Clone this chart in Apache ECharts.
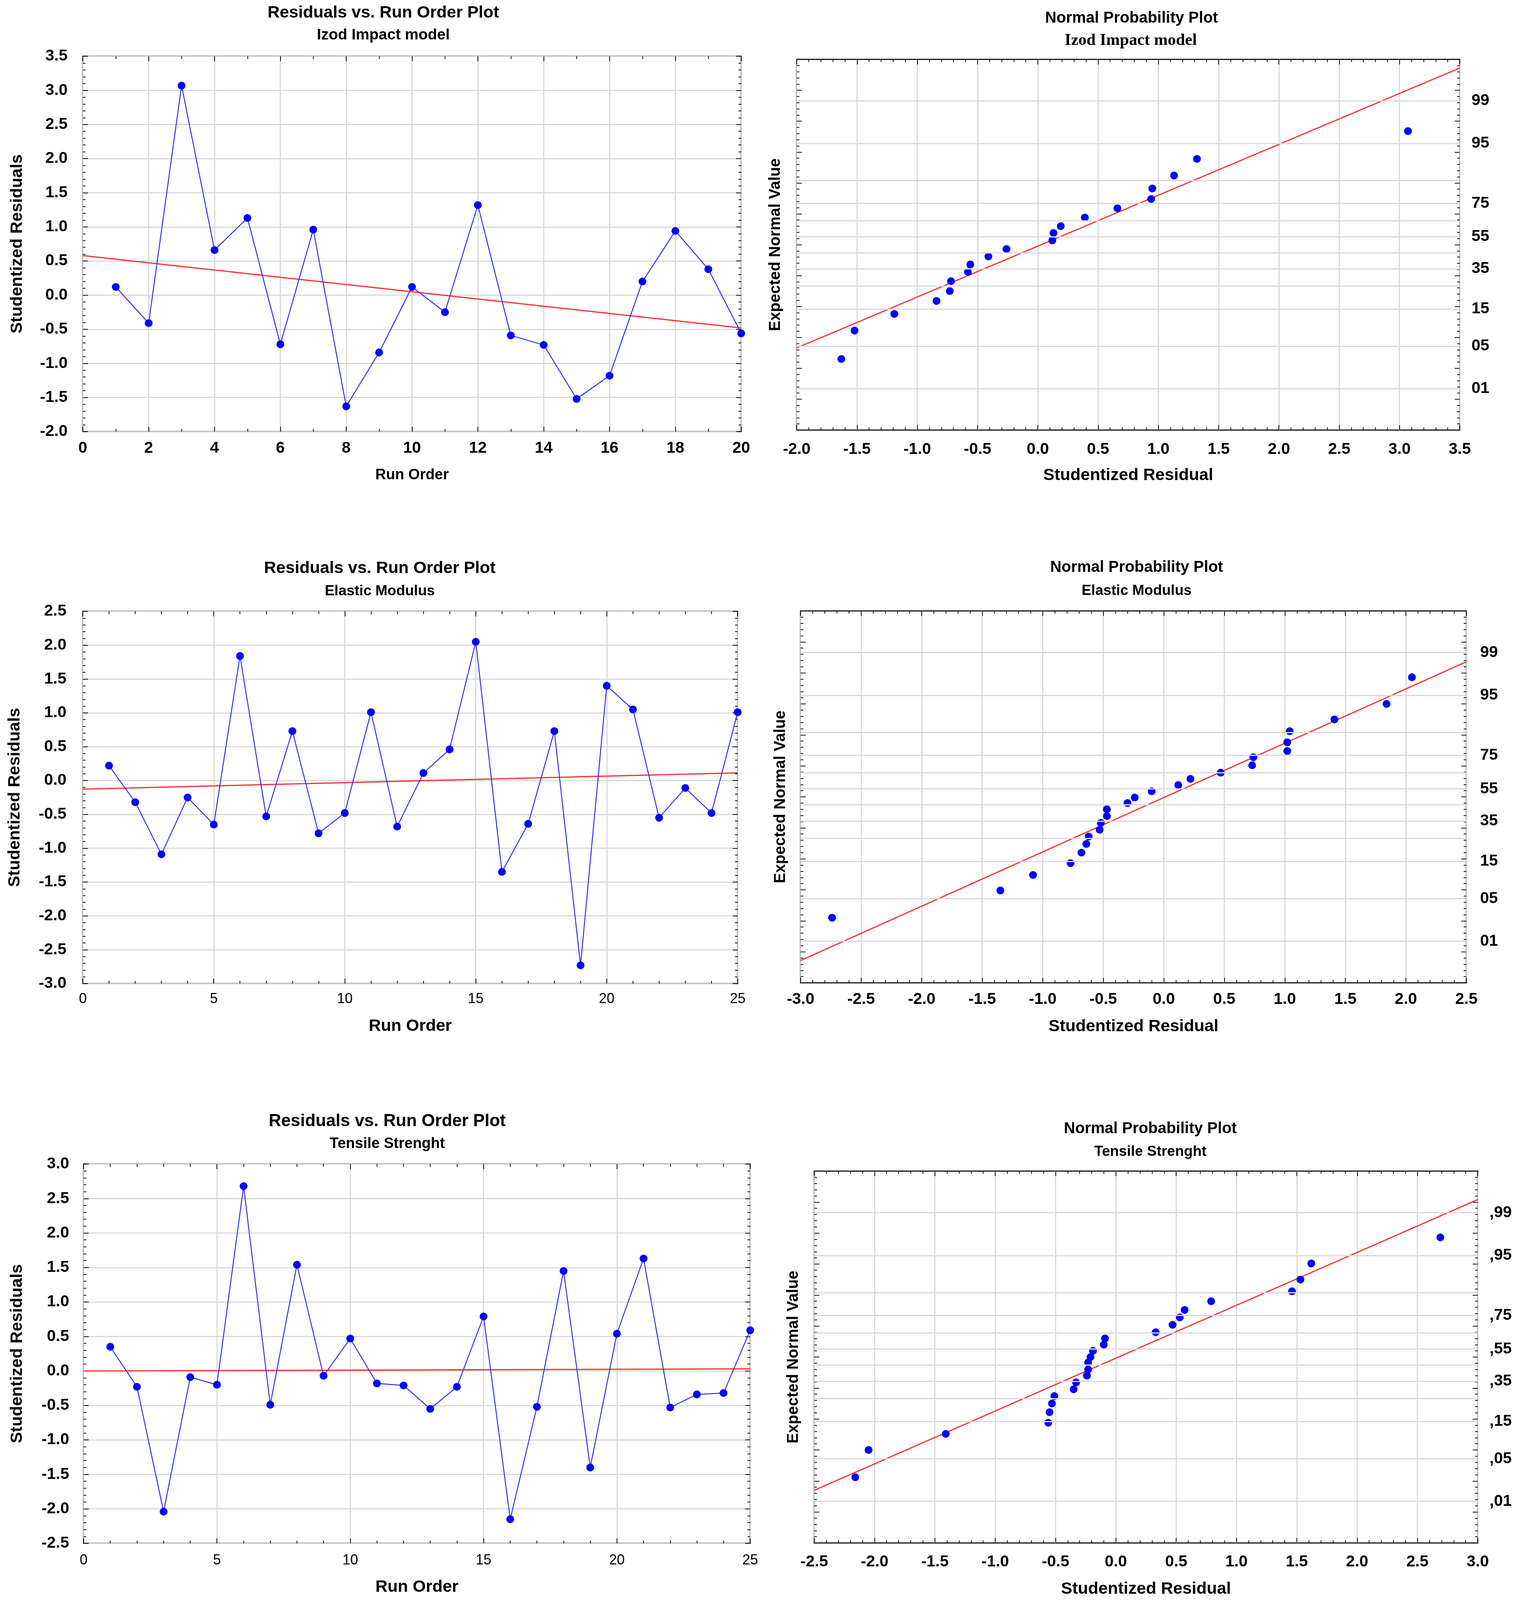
<!DOCTYPE html>
<html>
<head>
<meta charset="utf-8">
<script src="https://cdn.jsdelivr.net/npm/echarts@6/dist/echarts.min.js"></script>
<style>
html, body { margin: 0; padding: 0; background: #fff; overflow: hidden; }
#main { width: 100vw; height: 100vh; }
</style>
</head>
<body>
<div id="main"></div>
<script>
// ---- data ----
// Izod Impact model
var izodRun = [1, 2, 3, 4, 5, 6, 7, 8, 9, 10, 11, 12, 13, 14, 15, 16, 17, 18, 19, 20];
var izodResid = [0.12, -0.41, 3.07, 0.66, 1.13, -0.72, 0.96, -1.63, -0.84, 0.12, -0.25, 1.32, -0.59, -0.73, -1.52, -1.18, 0.20, 0.94, 0.38, -0.56];
var izodTrend = [[0, 0.58], [20, -0.48]];
var izodNpX = [-1.63, -1.52, -1.19, -0.84, -0.73, -0.72, -0.58, -0.56, -0.41, -0.26, 0.12, 0.13, 0.19, 0.39, 0.66, 0.94, 0.95, 1.13, 1.32, 3.07];
var izodNpZ = [-1.85, -1.39, -1.12, -0.91, -0.75, -0.59, -0.44, -0.32, -0.19, -0.07, 0.07, 0.19, 0.30, 0.44, 0.59, 0.74, 0.91, 1.12, 1.39, 1.84];
var izodNpFit = [[-2.0, -1.67], [3.5, 2.86]];

// Elastic Modulus
var elasRun = [1, 2, 3, 4, 5, 6, 7, 8, 9, 10, 11, 12, 13, 14, 15, 16, 17, 18, 19, 20, 21, 22, 23, 24, 25];
var elasResid = [0.22, -0.32, -1.09, -0.25, -0.65, 1.84, -0.53, 0.73, -0.78, -0.48, 1.01, -0.68, 0.11, 0.46, 2.05, -1.35, -0.64, 0.73, -2.73, 1.40, 1.05, -0.55, -0.11, -0.48, 1.01];
var elasTrend = [[0, -0.127], [25, 0.113]];
var elasNpX = [-2.74, -1.35, -1.08, -0.77, -0.68, -0.64, -0.62, -0.53, -0.52, -0.47, -0.47, -0.30, -0.24, -0.10, 0.12, 0.22, 0.47, 0.73, 0.74, 1.02, 1.02, 1.04, 1.41, 1.84, 2.05];
var elasNpZ = [-1.95, -1.51, -1.26, -1.07, -0.90, -0.76, -0.64, -0.53, -0.42, -0.31, -0.20, -0.10, -0.01, 0.09, 0.19, 0.29, 0.39, 0.51, 0.64, 0.74, 0.88, 1.06, 1.25, 1.50, 1.93];
var elasNpFit = [[-3.0, -2.64], [2.5, 2.18]];

// Tensile Strenght
var tensRun = [1, 2, 3, 4, 5, 6, 7, 8, 9, 10, 11, 12, 13, 14, 15, 16, 17, 18, 19, 20, 21, 22, 23, 24, 25];
var tensResid = [0.35, -0.23, -2.04, -0.09, -0.20, 2.68, -0.49, 1.54, -0.07, 0.47, -0.18, -0.21, -0.55, -0.23, 0.79, -2.15, -0.52, 1.45, -1.40, 0.54, 1.63, -0.53, -0.34, -0.32, 0.59];
var tensTrend = [[0, 0.0], [25, 0.03]];
var tensNpX = [-2.16, -2.05, -1.41, -0.56, -0.55, -0.53, -0.51, -0.35, -0.33, -0.24, -0.23, -0.23, -0.21, -0.19, -0.10, -0.09, 0.33, 0.47, 0.53, 0.57, 0.79, 1.46, 1.53, 1.62, 2.69];
var tensNpZ = [-1.94, -1.50, -1.24, -1.06, -0.89, -0.75, -0.63, -0.52, -0.41, -0.30, -0.20, -0.09, 0.00, 0.10, 0.20, 0.30, 0.40, 0.52, 0.64, 0.76, 0.90, 1.06, 1.25, 1.51, 1.93];
var tensNpFit = [[-2.5, -2.15], [3.0, 2.54]];

// probability scale of the normal plots
var probGridPct = [1, 5, 15, 25, 35, 45, 55, 65, 75, 85, 95, 99];
var probTickPct = [99, 95, 75, 55, 35, 15, 5, 1];
var probTickText = ["99", "95", "75", "55", "35", "15", "05", "01"];
var probTickTextComma = [",99", ",95", ",75", ",55", ",35", ",15", ",05", ",01"];

// ---- layout: laid out for 3885 x 4647, scaled to whatever the window gives ----
var VW = window.innerWidth || 3885,
	VH = window.innerHeight || 4647,
	sx = VW / 3885,
	sy = VH / 4647,
	sf = Math.sqrt(sx * sy);

function X(v) { return Math.round(v * sx); }
function Y(v) { return Math.round(v * sy); }
function F(v) { return Math.round(v * sf); }

var FONT = "'Liberation Sans', Arial, sans-serif",
	SERIF = "'Liberation Serif', 'Times New Roman', serif",
	INK = "#141414",
	GRIDC = "#d9d9d9";

function probit(p) {
	// inverse normal cdf (Acklam)
	var a = [-3.969683028665376e+01, 2.209460984245205e+02, -2.759285104469687e+02, 1.383577518672690e+02, -3.066479806614716e+01, 2.506628277459239e+00],
		b = [-5.447609879822406e+01, 1.615858368580409e+02, -1.556989798598866e+02, 6.680131188771972e+01, -1.328068155288572e+01],
		c = [-7.784894002430293e-03, -3.223964580411365e-01, -2.400758277161838e+00, -2.549732539343734e+00, 4.374664141464968e+00, 2.938163982698783e+00],
		d = [7.784695709041462e-03, 3.224671290700398e-01, 2.445134137142996e+00, 3.754408661907416e+00],
		plow = 0.02425, q, r;
	if (p < plow) {
		q = Math.sqrt(-2 * Math.log(p));
		return (((((c[0]*q+c[1])*q+c[2])*q+c[3])*q+c[4])*q+c[5]) / ((((d[0]*q+d[1])*q+d[2])*q+d[3])*q+1);
	}
	if (p > 1 - plow) {
		q = Math.sqrt(-2 * Math.log(1 - p));
		return -(((((c[0]*q+c[1])*q+c[2])*q+c[3])*q+c[4])*q+c[5]) / ((((d[0]*q+d[1])*q+d[2])*q+d[3])*q+1);
	}
	q = p - 0.5;
	r = q * q;
	return (((((a[0]*r+a[1])*r+a[2])*r+a[3])*r+a[4])*r+a[5])*q / (((((b[0]*r+b[1])*r+b[2])*r+b[3])*r+b[4])*r+1);
}

function pairs(xs, ys) {
	var out = [];
	for (var i = 0; i < xs.length; i++) out.push([xs[i], ys[i]]);
	return out;
}

var opt = {
	animation: false,
	backgroundColor: "#fff",
	grid: [],
	xAxis: [],
	yAxis: [],
	series: [],
	graphic: []
};

function tickOnly(ax) {
	ax.axisLabel = { show: false };
	ax.splitLine = { show: false };
	ax.name = "";
	return ax;
}

function baseAxis(gi, pos, min, max, interval, minorSplit) {
	return {
		type: "value",
		gridIndex: gi,
		position: pos,
		min: min,
		max: max,
		interval: interval,
		axisLine: { show: false, onZero: false },
		axisTick: { show: true, inside: true, length: 13, lineStyle: { color: INK, width: 2 } },
		minorTick: { show: true, splitNumber: minorSplit, length: 7, lineStyle: { color: INK, width: 2 } },
		splitLine: { show: true, lineStyle: { color: GRIDC, width: 3 } },
		axisLabel: { show: false }
	};
}

function addTitle(x, y, text, size, family) {
	opt.graphic.push({
		type: "text",
		x: X(x),
		y: Y(y),
		silent: true,
		style: {
			text: text,
			fill: "#000",
			font: "bold " + F(size) + "px " + (family || FONT),
			align: "center",
			verticalAlign: "middle"
		}
	});
}

// p: box, x/y range, labels, names
function addPanel(p) {
	var gi = opt.grid.length,
		xb, xt, yl, yr;

	opt.grid.push({
		left: X(p.box[0]),
		top: Y(p.box[1]),
		width: X(p.box[2]) - X(p.box[0]),
		height: Y(p.box[3]) - Y(p.box[1]),
		show: true,
		borderColor: INK,
		borderWidth: 3,
		backgroundColor: "#fff"
	});

	xb = baseAxis(gi, "bottom", p.x[0], p.x[1], p.x[2], p.x[3]);
	xb.axisLabel = {
		show: true,
		margin: Y(p.xLab.margin),
		fontSize: F(p.xLab.size),
		fontWeight: p.xLab.weight,
		fontFamily: FONT,
		color: "#000",
		showMinLabel: true,
		showMaxLabel: true,
		formatter: function(v) { return p.xLab.dec ? v.toFixed(1) : String(Math.round(v)); }
	};
	xb.name = p.xName.text;
	xb.nameLocation = "middle";
	xb.nameGap = Y(p.xName.gap);
	xb.nameTextStyle = { fontSize: F(p.xName.size), fontWeight: "bold", fontFamily: FONT, color: "#000" };
	xt = tickOnly(baseAxis(gi, "top", p.x[0], p.x[1], p.x[2], p.x[3]));

	yl = baseAxis(gi, "left", p.y[0], p.y[1], p.y[2], p.y[3]);
	if (p.yLab)
	{
		yl.axisLabel = {
			show: true,
			margin: X(p.yLab.margin),
			fontSize: F(p.yLab.size),
			fontWeight: "bold",
			fontFamily: FONT,
			color: "#000",
			showMinLabel: true,
			showMaxLabel: true,
			formatter: function(v) { return v.toFixed(1); }
		};
	}
	else
	{
		yl.splitLine = { show: false };
	}
	yl.name = p.yName.text;
	yl.nameLocation = "middle";
	yl.nameRotate = 90;
	yl.nameGap = X(p.yName.gap);
	yl.nameTextStyle = { fontSize: F(p.yName.size), fontWeight: "bold", fontFamily: FONT, color: "#000" };
	yr = tickOnly(baseAxis(gi, "right", p.y[0], p.y[1], p.y[2], p.y[3]));

	opt.xAxis.push(xb, xt);
	opt.yAxis.push(yl, yr);

	var xi = gi * 2,
		yi = gi * 2;

	// probability grid lines + right labels
	if (p.prob)
	{
		var lines = [];
		probGridPct.forEach(function(pc) {
			var k = probTickPct.indexOf(pc),
				item = { yAxis: probit(pc / 100), label: { show: false } };
			if (k >= 0)
			{
				item.label = {
					show: true,
					position: "end",
					distance: X(p.prob.dist),
					formatter: p.prob.text[k],
					fontSize: F(p.prob.size),
					fontWeight: "bold",
					fontFamily: FONT,
					color: "#000"
				};
			}
			lines.push(item);
		});
		opt.series.push({
			type: "line",
			xAxisIndex: xi,
			yAxisIndex: yi,
			data: [],
			z: 1,
			markLine: {
				silent: true,
				animation: false,
				symbol: ["none", "none"],
				lineStyle: { color: GRIDC, width: 3, type: "solid" },
				emphasis: { disabled: true },
				data: lines
			}
		});
	}

	opt.series.push({
		type: "line",
		xAxisIndex: xi,
		yAxisIndex: yi,
		data: p.trend,
		symbol: "none",
		z: 3,
		lineStyle: { color: "#ff2b2b", width: 3 }
	});

	if (p.joined)
	{
		opt.series.push({
			type: "line",
			xAxisIndex: xi,
			yAxisIndex: yi,
			data: p.points,
			symbol: "circle",
			symbolSize: F(21),
			z: 4,
			itemStyle: { color: "#0000ff" },
			lineStyle: { color: "#3333f2", width: 2.5 }
		});
	}
	else
	{
		opt.series.push({
			type: "scatter",
			xAxisIndex: xi,
			yAxisIndex: yi,
			data: p.points,
			symbolSize: F(21),
			z: 4,
			itemStyle: { color: "#0000ff", opacity: 1 }
		});
	}
}

// ---- panels ----
addPanel({
	box: [212, 163, 1897, 1254],
	x: [0, 20, 2, 2], y: [-2, 3.5, 0.5, 5],
	xLab: { size: 44, weight: "bold", margin: 25, dec: false },
	yLab: { size: 44, margin: 39 },
	xName: { text: "Run Order", size: 40, gap: 106 },
	yName: { text: "Studentized Residuals", size: 46, gap: 146 },
	points: pairs(izodRun, izodResid), trend: izodTrend, joined: true
});
addTitle(981, 38, "Residuals vs. Run Order Plot", 46);
addTitle(981, 102, "Izod Impact model", 42);

addPanel({
	box: [2039, 172, 3736, 1249],
	x: [-2, 3.5, 0.5, 5], y: [-3, 3, 0.5, 5],
	xLab: { size: 44, weight: "bold", margin: 33, dec: true },
	xName: { text: "Studentized Residual", size: 46, gap: 108 },
	yName: { text: "Expected Normal Value", size: 43, gap: 34 },
	prob: { text: probTickText, size: 44, dist: 30 },
	points: pairs(izodNpX, izodNpZ), trend: izodNpFit, joined: false
});
addTitle(2896, 53, "Normal Probability Plot", 43);
addTitle(2894, 118, "Izod Impact model", 45, SERIF);

addPanel({
	box: [212, 1776, 1888, 2857],
	x: [0, 25, 5, 5], y: [-3, 2.5, 0.5, 5],
	xLab: { size: 38, weight: "normal", margin: 25, dec: false },
	yLab: { size: 44, margin: 42 },
	xName: { text: "Run Order", size: 46, gap: 100 },
	yName: { text: "Studentized Residuals", size: 46, gap: 152 },
	points: pairs(elasRun, elasResid), trend: elasTrend, joined: true
});
addTitle(972, 1651, "Residuals vs. Run Order Plot", 46);
addTitle(972, 1718, "Elastic Modulus", 39);

addPanel({
	box: [2049, 1774, 3753, 2854],
	x: [-3, 2.5, 0.5, 5], y: [-3, 3, 0.5, 5],
	xLab: { size: 44, weight: "bold", margin: 25, dec: true },
	xName: { text: "Studentized Residual", size: 46, gap: 103 },
	yName: { text: "Expected Normal Value", size: 43, gap: 31 },
	prob: { text: probTickText, size: 44, dist: 35 },
	points: pairs(elasNpX, elasNpZ), trend: elasNpFit, joined: false
});
addTitle(2909, 1649, "Normal Probability Plot", 43);
addTitle(2909, 1716, "Elastic Modulus", 39);

addPanel({
	box: [214, 3381, 1920, 4483],
	x: [0, 25, 5, 5], y: [-2.5, 3, 0.5, 5],
	xLab: { size: 38, weight: "normal", margin: 29, dec: false },
	yLab: { size: 44, margin: 37 },
	xName: { text: "Run Order", size: 46, gap: 103 },
	yName: { text: "Studentized Residuals", size: 46, gap: 148 },
	points: pairs(tensRun, tensResid), trend: tensTrend, joined: true
});
addTitle(991, 3257, "Residuals vs. Run Order Plot", 47);
addTitle(991, 3323, "Tensile Strenght", 40);

addPanel({
	box: [2084, 3401, 3782, 4481],
	x: [-2.5, 3, 0.5, 5], y: [-3, 3, 0.5, 5],
	xLab: { size: 44, weight: "bold", margin: 32, dec: true },
	xName: { text: "Studentized Residual", size: 46, gap: 110 },
	yName: { text: "Expected Normal Value", size: 43, gap: 33 },
	prob: { text: probTickTextComma, size: 44, dist: 30 },
	points: pairs(tensNpX, tensNpZ), trend: tensNpFit, joined: false
});
addTitle(2944, 3279, "Normal Probability Plot", 43);
addTitle(2944, 3346, "Tensile Strenght", 39);

var chart = echarts.init(document.getElementById("main"), null, { renderer: "canvas" });
chart.setOption(opt);
</script>
</body>
</html>
